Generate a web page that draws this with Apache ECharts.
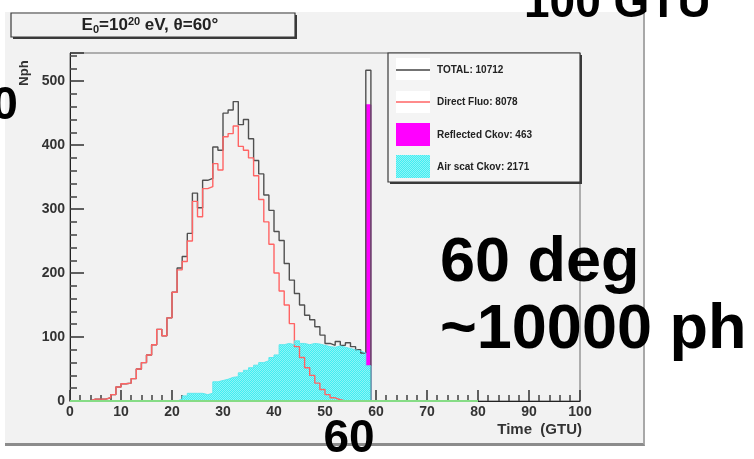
<!DOCTYPE html>
<html>
<head>
<meta charset="utf-8">
<script src="https://cdn.jsdelivr.net/npm/echarts@6/dist/echarts.min.js"></script>
<style>
  html, body { margin: 0; padding: 0; background: #ffffff; }
  #wrap { position: relative; width: 754px; height: 459px; overflow: hidden; }
  /* canvas pad behind the chart */
  #pad {
    position: absolute; left: 5px; top: 12px; width: 638px; height: 431px;
    background: #f2f2f2;
    border-right: 2px solid #a8a8a8;
    border-bottom: 3px solid #8c8c8c;
  }
  #chart { position: absolute; left: 0; top: 0; width: 754px; height: 459px; }
</style>
</head>
<body>
<div id="wrap">
  <div id="pad"></div>
  <div id="chart"></div>
</div>
<script>
// Photon counts per 1-GTU time bin; bin i covers [i, i+1) GTU, histogram range 0-80 GTU.
const totalCounts = [
  0, 0, 0, 0, 3, 3, 3, 5, 10, 22,
  27, 28, 35, 50, 60, 72, 88, 112, 102, 130,
  170, 208, 226, 262, 325, 302, 345, 348, 397, 392,
  450, 455, 468, 432, 440, 410, 376, 355, 322, 298,
  265, 251, 215, 189, 168, 150, 134, 127, 116, 103,
  90, 87, 93, 87, 91, 85, 80, 75, 517, 0,
  0, 0, 0, 0, 0, 0, 0, 0, 0, 0,
  0, 0, 0, 0, 0, 0, 0, 0, 0, 0
];
const directFluo = [
  0, 0, 0, 0, 3, 3, 3, 5, 10, 22,
  27, 28, 35, 50, 60, 72, 88, 112, 102, 130,
  170, 205, 218, 250, 312, 288, 332, 335, 371, 361,
  413, 418, 430, 398, 392, 380, 352, 315, 280, 245,
  200, 172, 150, 121, 85, 68, 52, 40, 28, 18,
  10, 5, 2, 0, 0, 0, 0, 0, 0, 0,
  0, 0, 0, 0, 0, 0, 0, 0, 0, 0,
  0, 0, 0, 0, 0, 0, 0, 0, 0, 0
];
const reflectedCkov = [
  0, 0, 0, 0, 0, 0, 0, 0, 0, 0,
  0, 0, 0, 0, 0, 0, 0, 0, 0, 0,
  0, 0, 0, 0, 0, 0, 0, 0, 0, 0,
  0, 0, 0, 0, 0, 0, 0, 0, 0, 0,
  0, 0, 0, 0, 0, 0, 0, 0, 0, 0,
  0, 0, 0, 0, 0, 0, 0, 0, 463, 0,
  0, 0, 0, 0, 0, 0, 0, 0, 0, 0,
  0, 0, 0, 0, 0, 0, 0, 0, 0, 0
];
const airScatCkov = [
  0, 0, 0, 0, 0, 0, 0, 0, 0, 0,
  0, 0, 0, 0, 0, 0, 0, 0, 0, 0,
  0, 3, 8, 12, 12, 12, 10, 12, 30, 32,
  34, 37, 38, 44, 48, 52, 56, 60, 63, 68,
  72, 88, 90, 88, 94, 90, 88, 90, 89, 87,
  85, 84, 86, 84, 82, 80, 78, 75, 55, 0,
  0, 0, 0, 0, 0, 0, 0, 0, 0, 0,
  0, 0, 0, 0, 0, 0, 0, 0, 0, 0
];
const histRange = [0, 80];
const legendLabels = ['TOTAL: 10712', 'Direct Fluo: 8078', 'Reflected Ckov: 463', 'Air scat Ckov: 2171'];
const xAxisTitle = 'Time  (GTU)';
const yAxisTitle = 'Nph';

// Slide annotations around the plot
const notes = {
  gtu: '100 GTU',
  angle: '60 deg',
  photons: '~10000 ph',
  sixty: '60',
  zero: '0'
};

// Histogram outline points: one point per bin low edge plus the closing upper edge
function histPoints(arr) {
  const pts = arr.map((v, i) => [histRange[0] + i, v]);
  pts.push([histRange[0] + arr.length, arr[arr.length - 1]]);
  return pts;
}

// Dotted cyan fill (ROOT-style hatch)
function makeHatch() {
  const c = document.createElement('canvas');
  c.width = 2; c.height = 2;
  const g = c.getContext('2d');
  g.fillStyle = '#40eef2';
  g.fillRect(0, 0, 2, 2);
  g.fillStyle = '#8ef4f6';
  g.fillRect(0, 0, 1, 1);
  g.fillRect(1, 1, 1, 1);
  return c;
}
const hatch = makeHatch();

const FONT = '"Liberation Sans", Arial, Helvetica, sans-serif';
const chart = echarts.init(document.getElementById('chart'), null, { renderer: 'canvas' });

const shadowBox = (x, y, w, h, fill, z) => ([
  { type: 'rect', z: z, shape: { x: x + 2, y: y + 2, width: w, height: h }, style: { fill: '#3a3a3a' } },
  { type: 'rect', z: z + 1, shape: { x: x, y: y, width: w, height: h }, style: { fill: fill, stroke: '#3a3a3a', lineWidth: 1.2 } }
]);

const graphics = [
  // title box
  ...shadowBox(11, 13, 284, 24, '#f2f2f2', 10),
  {
    type: 'text', z: 12, x: 150, y: 25.5,
    style: {
      text: '{n|E}{sub|0}{n|=10}{sup|20}{n| eV, θ=60°}',
      align: 'center', verticalAlign: 'middle',
      rich: {
        n: { font: 'bold 17px ' + FONT, fill: '#222', lineHeight: 19 },
        sub: { font: 'bold 11px ' + FONT, fill: '#222', verticalAlign: 'bottom', lineHeight: 19 },
        sup: { font: 'bold 11px ' + FONT, fill: '#222', verticalAlign: 'top', lineHeight: 19 }
      }
    }
  },
  // legend box
  ...shadowBox(388, 53, 192, 129, '#f4f4f4', 10),
  { type: 'rect', z: 12, shape: { x: 396, y: 58, width: 34, height: 22 }, style: { fill: '#ffffff' } },
  { type: 'line', z: 13, shape: { x1: 396, y1: 70, x2: 430, y2: 70 }, style: { stroke: '#444', lineWidth: 1.4 } },
  { type: 'rect', z: 12, shape: { x: 396, y: 91, width: 34, height: 22 }, style: { fill: '#ffffff' } },
  { type: 'line', z: 13, shape: { x1: 396, y1: 102, x2: 430, y2: 102 }, style: { stroke: '#ff6464', lineWidth: 1.4 } },
  { type: 'rect', z: 12, shape: { x: 396, y: 123, width: 34, height: 23 }, style: { fill: '#ff00ff' } },
  { type: 'rect', z: 12, shape: { x: 396, y: 155, width: 34, height: 23 }, style: { fill: { image: hatch, repeat: 'repeat' } } },
  // axis titles
  {
    type: 'text', z: 12, x: 24, y: 73, rotation: Math.PI / 2,
    style: { text: yAxisTitle, font: 'bold 13px ' + FONT, fill: '#333', align: 'center', verticalAlign: 'middle' }
  },
  {
    type: 'text', z: 12, x: 582, y: 430,
    style: { text: xAxisTitle, font: 'bold 15px ' + FONT, fill: '#333', align: 'right', verticalAlign: 'middle' }
  },
  // slide annotations
  { type: 'text', z: 50, x: 524, y: 4, style: { text: notes.gtu, font: 'bold 46px ' + FONT, fill: '#000', align: 'left', verticalAlign: 'middle' } },
  { type: 'text', z: 50, x: 5, y: 106, style: { text: notes.zero, font: 'bold 46px ' + FONT, fill: '#000', align: 'center', verticalAlign: 'middle' } },
  { type: 'text', z: 50, x: 440, y: 264, style: { text: notes.angle, font: 'bold 63px ' + FONT, fill: '#000', align: 'left', verticalAlign: 'middle' } },
  { type: 'text', z: 50, x: 440, y: 331, style: { text: notes.photons, font: 'bold 63px ' + FONT, fill: '#000', align: 'left', verticalAlign: 'middle' } },
  { type: 'text', z: 50, x: 349, y: 439, style: { text: notes.sixty, font: 'bold 46px ' + FONT, fill: '#000', align: 'center', verticalAlign: 'middle' } }
];
const legendY = [70, 102, 135, 167];
legendLabels.forEach((t, i) => {
  graphics.push({
    type: 'text', z: 13, x: 437, y: legendY[i],
    style: { text: t, font: 'bold 10px ' + FONT, fill: '#222', align: 'left', verticalAlign: 'middle' }
  });
});

const axisText = { fontFamily: FONT, fontWeight: 'bold', fontSize: 14, color: '#333' };

chart.setOption({
  animation: false,
  backgroundColor: 'transparent',
  grid: {
    left: 70, right: 174, top: 53, bottom: 58,
    show: true, borderColor: '#6a6a6a', borderWidth: 1, backgroundColor: 'transparent'
  },
  xAxis: {
    type: 'value', min: 0, max: 100, interval: 10,
    axisLine: { show: true, onZero: false, lineStyle: { color: '#222', width: 1 } },
    axisTick: { show: true, inside: true, length: 11, lineStyle: { color: '#3a3a3a', width: 1.6 } },
    minorTick: { show: true, splitNumber: 5, length: 6, lineStyle: { color: '#4a4a4a', width: 1.6 } },
    splitLine: { show: false },
    axisLabel: Object.assign({ margin: 4 }, axisText)
  },
  yAxis: {
    type: 'value', min: 0, max: 544, interval: 100,
    axisLine: { show: true, onZero: false, lineStyle: { color: '#222', width: 1 } },
    axisTick: { show: true, inside: true, length: 14, lineStyle: { color: '#3a3a3a', width: 1.6 } },
    minorTick: { show: true, splitNumber: 5, length: 7, lineStyle: { color: '#4a4a4a', width: 1.6 } },
    splitLine: { show: false },
    axisLabel: Object.assign({ margin: 5, showMaxLabel: false }, axisText)
  },
  graphic: graphics,
  series: [
    {
      name: 'TOTAL', type: 'line', step: 'end', symbol: 'none', data: histPoints(totalCounts),
      lineStyle: { color: '#505050', width: 1.4 }
    },
    {
      name: 'Direct Fluo', type: 'line', step: 'end', symbol: 'none', data: histPoints(directFluo),
      lineStyle: { color: '#ff6464', width: 1.4 }
    },
    {
      name: 'Reflected Ckov', type: 'custom',
      data: reflectedCkov.map((v, i) => [histRange[0] + i, v]).filter(d => d[1] > 0),
      renderItem: function (params, api) {
        const x0 = api.value(0), v = api.value(1);
        const p0 = api.coord([x0, 0]);
        const p1 = api.coord([x0 + 1, v]);
        return {
          type: 'rect',
          shape: { x: p0[0], y: p1[1], width: p1[0] - p0[0], height: p0[1] - p1[1] },
          style: { fill: '#ff00ff', stroke: '#ff00ff', lineWidth: 1 }
        };
      }
    },
    {
      name: 'Air scat Ckov', type: 'line', step: 'end', symbol: 'none', data: histPoints(airScatCkov),
      lineStyle: { color: '#5ee9ee', width: 1 },
      areaStyle: { color: { image: hatch, repeat: 'repeat' }, opacity: 1 }
    },
    {
      name: 'baseline', type: 'line', symbol: 'none', data: [[histRange[0], 0], [histRange[1], 0]],
      lineStyle: { color: '#86dc86', width: 2 }
    }
  ]
});
</script>
</body>
</html>
